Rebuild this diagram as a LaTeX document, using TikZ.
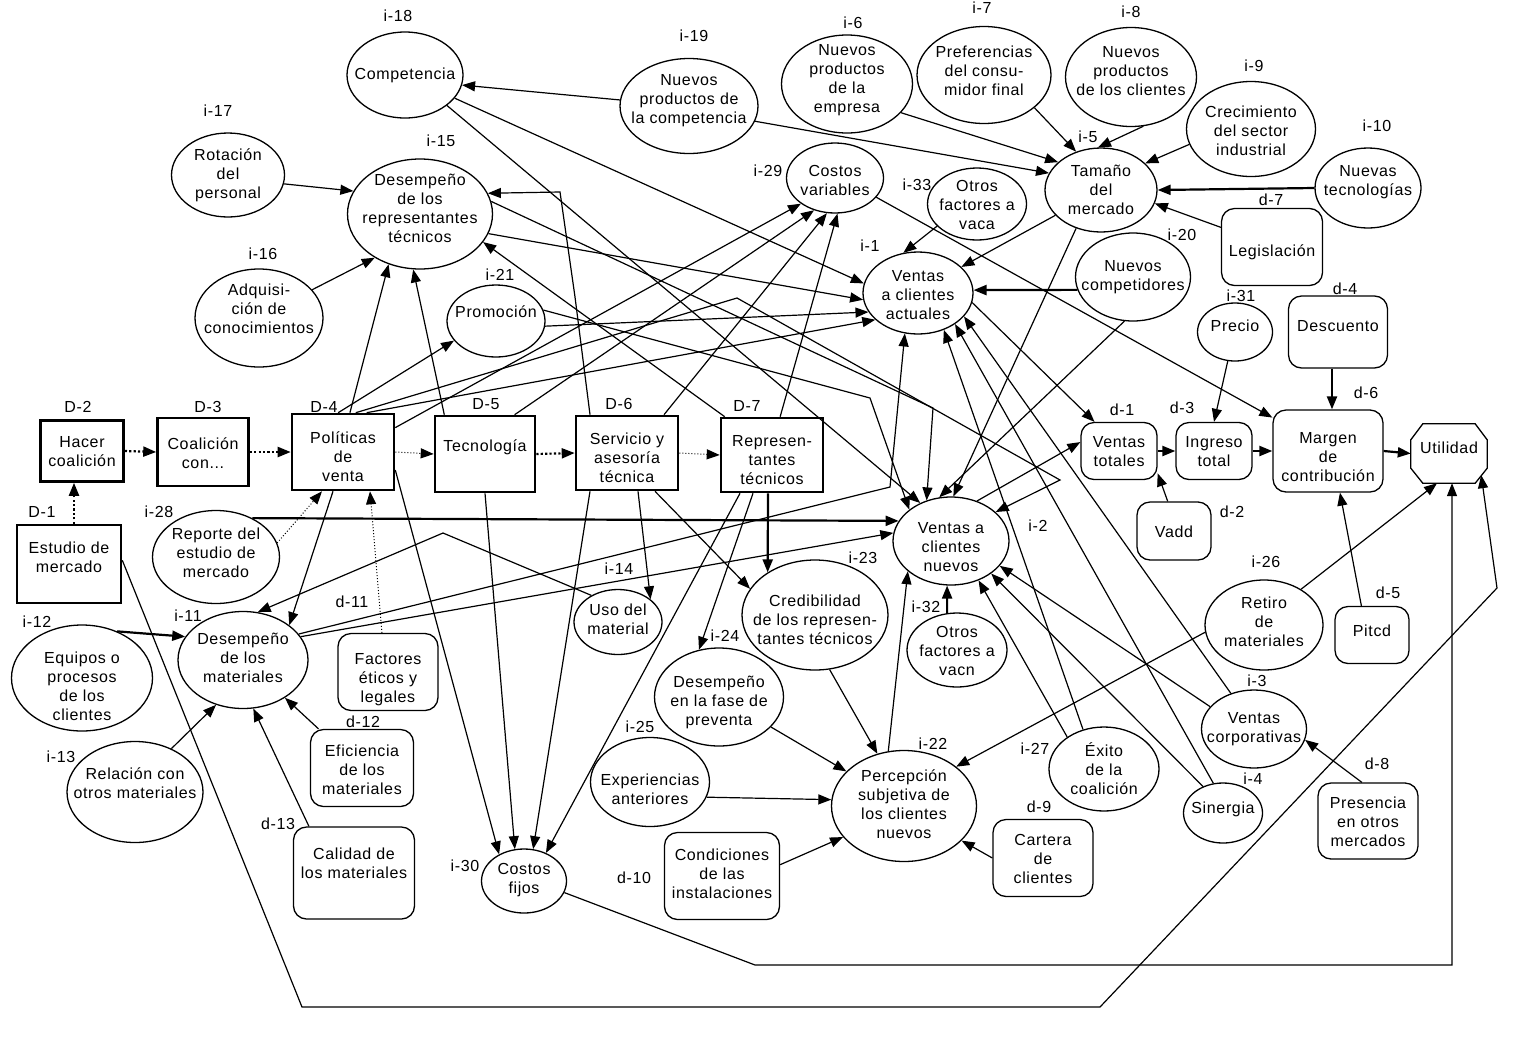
\documentclass[tikz,border=0pt]{standalone}
\usepackage{fontspec}
\setmainfont[LetterSpace=4]{Liberation Sans}
\usetikzlibrary{arrows.meta,calc,shapes.geometric}
\tikzset{
 ell/.style={draw,ellipse,line width=1.3pt,inner sep=0pt,fill=white},
 rr/.style={draw,rectangle,rounded corners=13pt,line width=1.3pt,inner sep=0pt,fill=white},
 bx/.style={draw,rectangle,line width=2.6pt,inner sep=0pt,fill=white},
 ghost/.style={rectangle,inner sep=0pt},
 txt/.style={align=center,font=\fontsize{16pt}{19pt}\selectfont,inner sep=0pt},
 lbl/.style={font=\fontsize{16pt}{19pt}\selectfont,inner sep=0pt},
 arr/.style={line width=1.2pt,-{Triangle[length=13pt,width=10pt]}},
 tarr/.style={line width=2.2pt,-{Triangle[length=13pt,width=10pt]}},
 plain/.style={line width=1.2pt},
 hdot/.style={line width=2.2pt,dash pattern=on 2.2pt off 2.2pt,-{Triangle[length=13pt,width=10pt]}},
 ldot/.style={line width=1pt,dash pattern=on 1pt off 2pt,-{Triangle[length=13pt,width=10pt]}},
}
\newcommand{\mkEll}[7]{\node[ell,minimum width=#4pt,minimum height=#5pt] (#1) at (#2,#3) {};
 \node[txt] (#1t) at ($(#1.center)+(0,#6)$) {#7};}
\newcommand{\mkRR}[7]{\node[rr,minimum width=#4pt,minimum height=#5pt] (#1) at (#2,#3) {};
 \node[txt] (#1t) at ($(#1.center)+(0,#6)$) {#7};}
\newcommand{\mkBX}[7]{\node[bx,minimum width=#4pt,minimum height=#5pt] (#1) at (#2,#3) {};
 \node[txt] (#1t) at ($(#1.center)+(0,#6)$) {#7};}
\begin{document}
\begin{tikzpicture}[x=1pt,y=-1pt]
\useasboundingbox (0,0) rectangle (1520,1037);
\fill[white] (0,0) rectangle (1520,1037);
% ---------- nodes ----------
\mkEll{i18}{405}{75}{116}{86}{0}{Competencia}
\mkEll{i17}{228}{175}{113}{84}{0}{Rotación\\del\\personal}
\mkEll{i15}{420}{214}{145}{110}{-6}{Desempeño\\de los\\representantes\\técnicos}
\mkEll{i16}{259}{318}{128}{98}{-9}{Adquisi-\\ción de\\conocimientos}
\mkEll{i21}{496}{321}{98}{72}{-9}{Promoción}
\mkEll{i19}{689}{106}{138}{95}{-5}{Nuevos\\productos de\\la competencia}
\mkEll{i6}{847}{84}{131}{98}{-4}{Nuevos\\productos\\de la\\empresa}
\mkEll{i7}{984}{75}{134}{97}{-4}{Preferencias\\del consu-\\midor final}
\mkEll{i8}{1131}{77}{131}{99}{-6}{Nuevos\\productos\\de los clientes}
\mkEll{i9}{1251}{129}{129}{95}{2}{Crecimiento\\del sector\\industrial}
\mkEll{i10}{1368}{188}{106}{80}{-6}{Nuevas\\tecnologías}
\mkEll{i5}{1101}{190}{112}{84}{0}{Tamaño\\del\\mercado}
\mkEll{i29}{835}{178}{97}{70}{2}{Costos\\variables}
\mkEll{i33}{977}{204}{99}{72}{1}{Otros\\factores a\\vaca}
\mkEll{i1}{918}{293}{110}{82}{2}{Ventas\\a clientes\\actuales}
\mkEll{i20}{1133}{277}{115}{88}{0}{Nuevos\\competidores}
\mkEll{i31}{1235}{332}{75}{58}{-6}{Precio}
\mkRR{d7}{1272}{247}{101}{77}{5}{Legislación}
\mkRR{d4}{1338}{332}{99}{72}{-6}{Descuento}
\mkRR{d1}{1119}{451}{76}{57}{1}{Ventas\\totales}
\mkRR{d3}{1214}{451}{76}{57}{1}{Ingreso\\total}
\mkRR{d6}{1328}{451}{110}{82}{6}{Margen\\de\\contribución}
\node[ghost,minimum width=76pt,minimum height=59pt] (util) at (1449,453.5) {};
\draw[line width=1.3pt,fill=white] ([xshift=12pt]util.north west) -- ([xshift=-12pt]util.north east) -- ([yshift=-16pt]util.north east) -- ([yshift=15pt]util.south east) -- ([xshift=-12pt]util.south east) -- ([xshift=12pt]util.south west) -- ([yshift=15pt]util.south west) -- ([yshift=-16pt]util.north west) -- cycle;
\node[txt] (utilt) at ($(util.center)+(0,-6)$) {Utilidad};
\mkRR{d2}{1174}{531}{74}{58}{1}{Vadd}
\mkEll{i26}{1264}{625}{118}{90}{-3}{Retiro\\de\\materiales}
\mkRR{d5}{1372}{635}{74}{57}{-4}{Pitcd}
\mkEll{i3}{1254}{729}{105}{78}{0}{Ventas\\corporativas}
\mkEll{i4}{1223}{813}{79}{60}{-4}{Sinergia}
\mkRR{d8}{1368}{821}{100}{76}{1}{Presencia\\en otros\\mercados}
\mkEll{i27}{1104}{769}{110}{84}{0}{Éxito\\de la\\coalición}
\mkRR{d9}{1043}{858}{100}{77}{1}{Cartera\\de\\clientes}
\mkEll{i22}{904}{806}{145}{111}{-2}{Percepción\\subjetiva de\\los clientes\\nuevos}
\mkEll{i32}{957}{650}{100}{74}{1}{Otros\\factores a\\vacn}
\mkEll{i2}{951}{541}{116}{88}{6}{Ventas a\\clientes\\nuevos}
\mkEll{i23}{815}{615}{146}{110}{5}{Credibilidad\\de los represen-\\tantes técnicos}
\mkEll{i14}{618}{622}{88}{65}{-3}{Uso del\\material}
\mkEll{i24}{719}{697}{129}{98}{5}{Desempeño\\en la fase de\\preventa}
\mkEll{i25}{650}{782}{119}{89}{7}{Experiencias\\anteriores}
\mkRR{d10}{722}{876}{115}{87}{-2}{Condiciones\\de las\\instalaciones}
\mkEll{i30}{524}{881}{85}{64}{-1}{Costos\\fijos}
\mkRR{d13}{354}{873}{121}{92}{-10}{Calidad de\\los materiales}
\mkRR{d12}{362}{768}{103}{77}{2}{Eficiencia\\de los\\materiales}
\mkEll{i13}{135}{792}{136}{101}{-9}{Relación con\\otros materiales}
\mkEll{i12}{82}{678}{141}{106}{8}{Equipos o\\procesos\\de los\\clientes}
\mkEll{i11}{243}{660}{130}{97}{-2}{Desempeño\\de los\\materiales}
\mkRR{d11}{388}{672}{100}{77}{8}{Factores\\éticos y\\legales}
\mkEll{i28}{216}{557}{127}{93}{-4}{Reporte del\\estudio de\\mercado}
\mkBX{D1}{69}{564}{104}{78}{-7}{Estudio de\\mercado}
\mkBX{D2}{82}{451}{83}{61}{1}{Hacer\\coalición}
\mkBX{D3}{203}{452}{91}{68}{1}{Coalición\\con...}
\mkBX{D4}{343}{452}{102}{76}{5}{Políticas\\de\\venta}
\mkBX{D5}{485}{454}{100}{76}{-7}{Tecnología}
\mkBX{D6}{627}{453}{102}{74}{5}{Servicio y\\asesoría\\técnica}
\mkBX{D7}{772}{455}{102}{74}{5}{Represen-\\tantes\\técnicos}
% ---------- id labels ----------
\node[lbl] (l1) at (398,16) {i-18};
\node[lbl] (l2) at (218,111) {i-17};
\node[lbl] (l3) at (441,141) {i-15};
\node[lbl] (l4) at (263,254) {i-16};
\node[lbl] (l5) at (500,275) {i-21};
\node[lbl] (l6) at (694,36) {i-19};
\node[lbl] (l7) at (853,23) {i-6};
\node[lbl] (l8) at (982,8) {i-7};
\node[lbl] (l9) at (1131,12) {i-8};
\node[lbl] (l10) at (1254,66) {i-9};
\node[lbl] (l11) at (1377,126) {i-10};
\node[lbl] (l12) at (1088,137) {i-5};
\node[lbl] (l13) at (768,171) {i-29};
\node[lbl] (l14) at (917,185) {i-33};
\node[lbl] (l15) at (870,246) {i-1};
\node[lbl] (l16) at (1182,235) {i-20};
\node[lbl] (l17) at (1271,200) {d-7};
\node[lbl] (l18) at (1241,296) {i-31};
\node[lbl] (l19) at (1345,289) {d-4};
\node[lbl] (l20) at (1366,393) {d-6};
\node[lbl] (l21) at (1122,410) {d-1};
\node[lbl] (l22) at (1182,408) {d-3};
\node[lbl] (l23) at (1232,512) {d-2};
\node[lbl] (l24) at (1266,562) {i-26};
\node[lbl] (l25) at (1388,593) {d-5};
\node[lbl] (l26) at (1257,681) {i-3};
\node[lbl] (l27) at (1253,779) {i-4};
\node[lbl] (l28) at (1377,764) {d-8};
\node[lbl] (l29) at (1035,749) {i-27};
\node[lbl] (l30) at (1039,807) {d-9};
\node[lbl] (l31) at (933,744) {i-22};
\node[lbl] (l32) at (640,727) {i-25};
\node[lbl] (l33) at (634,878) {d-10};
\node[lbl] (l34) at (465,866) {i-30};
\node[lbl] (l35) at (278,824) {d-13};
\node[lbl] (l36) at (363,722) {d-12};
\node[lbl] (l37) at (61,757) {i-13};
\node[lbl] (l38) at (37,622) {i-12};
\node[lbl] (l39) at (188,616) {i-11};
\node[lbl] (l40) at (352,602) {d-11};
\node[lbl] (l41) at (159,512) {i-28};
\node[lbl] (l42) at (42,512) {D-1};
\node[lbl] (l43) at (78,407) {D-2};
\node[lbl] (l44) at (208,407) {D-3};
\node[lbl] (l45) at (324,407) {D-4};
\node[lbl] (l46) at (486,404) {D-5};
\node[lbl] (l47) at (619,404) {D-6};
\node[lbl] (l48) at (747,406) {D-7};
\node[lbl] (l49) at (619,569) {i-14};
\node[lbl] (l50) at (863,558) {i-23};
\node[lbl] (l51) at (926,607) {i-32};
\node[lbl] (l52) at (1038,526) {i-2};
\node[lbl] (l53) at (725,636) {i-24};
% ---------- bend points ----------
\coordinate (k1) at (575,297);
\coordinate (k2) at (560,192);
\coordinate (k3) at (933,408);
\coordinate (k4) at (870,398);
\coordinate (k5) at (737,298);
\coordinate (k6) at (1060,480);
\coordinate (k7) at (890,487);
\coordinate (k8) at (443,533);
\coordinate (k9) at (755,965);
\coordinate (k10) at (1452,965);
\coordinate (k11) at (302,1007);
\coordinate (k12) at (1100,1007);
\coordinate (k13) at (1497,588);
% ---------- connectors ----------
\draw[arr] (i19.175) -- (i18.-10);
\draw[arr] (i17.-9) -- (i15.161);
\draw[arr] (i16.28) -- (i15.224);
\draw[arr] (D4.80) -- (i15.238);
\draw[arr] (D5.136) -- (i15.263);
\draw[arr] (D4.97) -- (i21.205);
\draw[arr] (D6.134) -- (k1) -- (k2) -- (i15.17);
\draw[arr] (D7.141) -- (i15.-24);
\draw[arr] (i15.-16) -- (i1.187);
\draw[arr] (i15.10) -- (k3) -- (i2.121);
\draw[arr] (i18.-25) -- (i1.170);
\draw[arr] (i18.-36) -- (i2.129);
\draw[arr] (i21.-6) -- (i1.201);
\draw[arr] (i21.13) -- (k4) -- (i2.143);
\draw[arr] (D4.59) -- (i1.212);
\draw[arr] (D4.72) -- (k5) -- (k6) -- (i2.33);
\draw[arr] (D4.25) -- (i29.217);
\draw[arr] (D5.53) -- (i29.237);
\draw[arr] (D6.46) -- (i29.257);
\draw[arr] (D7.78) -- (i29.274);
\draw[arr] (i29.-25) -- (d6.149);
\draw[arr] (i19.-13) -- (i5.162);
\draw[arr] (i6.-28) -- (i5.147);
\draw[arr] (i7.-33) -- (i5.123);
\draw[arr] (i8.-76) -- (i5.94);
\draw[arr] (i9.194) -- (i5.31);
\draw[tarr] (i10.180) -- (i5.0);
\draw[arr] (d7.159) -- (i5.-14);
\draw[arr] (i5.209) -- (i1.31);
\draw[arr] (i5.237) -- (i2.87);
\draw[arr] (i33.209) -- (i1.110);
\draw[tarr] (i20.193) -- (i1.3);
\draw[arr] (i20.259) -- (i2.105);
\draw[arr] (i1.-10) -- (d1.130);
\draw[arr] (i2.57) -- (d1.167);
\draw[arr] (i11.25) -- (k7) -- (i1.252);
\draw[arr] (i11.22) -- (i2.172);
\draw[tarr] (i28.47) -- (i2.159);
\draw[arr] (i22.106) -- (i2.215);
\draw[tarr] (i32.105) -- (i2.265);
\draw[arr] (i27.139) -- (i2.-55);
\draw[arr] (i27.118) -- (i1.-55);
\draw[arr] (i4.127) -- (i2.-39);
\draw[arr] (i4.108) -- (i1.-40);
\draw[arr] (i3.153) -- (i2.-27);
\draw[arr] (i3.123) -- (i1.-27);
\draw[arr] (i26.187) -- (i22.37);
\draw[arr] (i26.44) -- ([xshift=-12pt]util.south);
\draw[arr] (i30.-16) -- (k9) -- (k10) -- ([xshift=3pt]util.south);
\draw[arr] (D1.4) -- (k11) -- (k12) -- (k13) -- ([xshift=-6pt,yshift=8pt]util.south east);
\draw[tarr] (d6.east) -- (util.west);
\draw[tarr] (d1.east) -- (d3.west);
\draw[tarr] (d3.east) -- (d6.west);
\draw[tarr] ([xshift=-6pt]d4.south) -- ([xshift=4pt]d6.north);
\draw[arr] (i31.256) -- (d3.north);
\draw[arr] (d2.102) -- (d1.-30);
\draw[arr] (d5.110) -- (d6.286);
\draw[arr] (d8.99) -- (i3.-12);
\draw[arr] (d9.180) -- (i22.-31);
\draw[arr] (d10.11) -- (i22.207);
\draw[arr] (i25.-15) -- (i22.175);
\draw[arr] (i24.-30) -- (i22.149);
\draw[arr] (i23.-75) -- (i22.117);
\draw[tarr] ([xshift=-4pt]D7.south) -- (i23.138);
\draw[arr] ([xshift=-19pt]D7.south) -- (i24.113);
\draw[arr] ([xshift=-32pt]D7.south) -- (i30.52);
\draw[arr] ([xshift=28pt]D6.south) -- (i23.158);
\draw[arr] ([xshift=11pt]D6.south) -- (i14.35);
\draw[arr] ([xshift=-37pt]D6.south) -- (i30.74);
\draw[arr] (D5.south) -- (i30.106);
\draw[arr] ([yshift=-18pt]D4.east) -- (i30.133);
\draw[arr] ([xshift=-10pt]D4.south) -- (i11.37);
\draw[arr] (i14.135) -- (k8) -- (i11.73);
\draw[tarr] (i12.53) -- (i11.158);
\draw[arr] (i13.50) -- (i11.239);
\draw[arr] (d13.134) -- (i11.282);
\draw[arr] (d12.138) -- (i11.-42);
\draw[ldot] (i28.13) -- ([xshift=-21pt]D4.south);
\draw[ldot] ([xshift=-6pt]d11.north) -- ([xshift=27pt]D4.south);
\draw[hdot] ([xshift=5pt]D1.north) -- ([xshift=-8pt]D2.south);
\draw[hdot] (D2.east) -- (D3.west);
\draw[hdot] (D3.east) -- (D4.west);
\draw[ldot] (D4.east) -- (D5.west);
\draw[hdot] (D5.east) -- (D6.west);
\draw[ldot] (D6.east) -- (D7.west);
\end{tikzpicture}
\end{document}
